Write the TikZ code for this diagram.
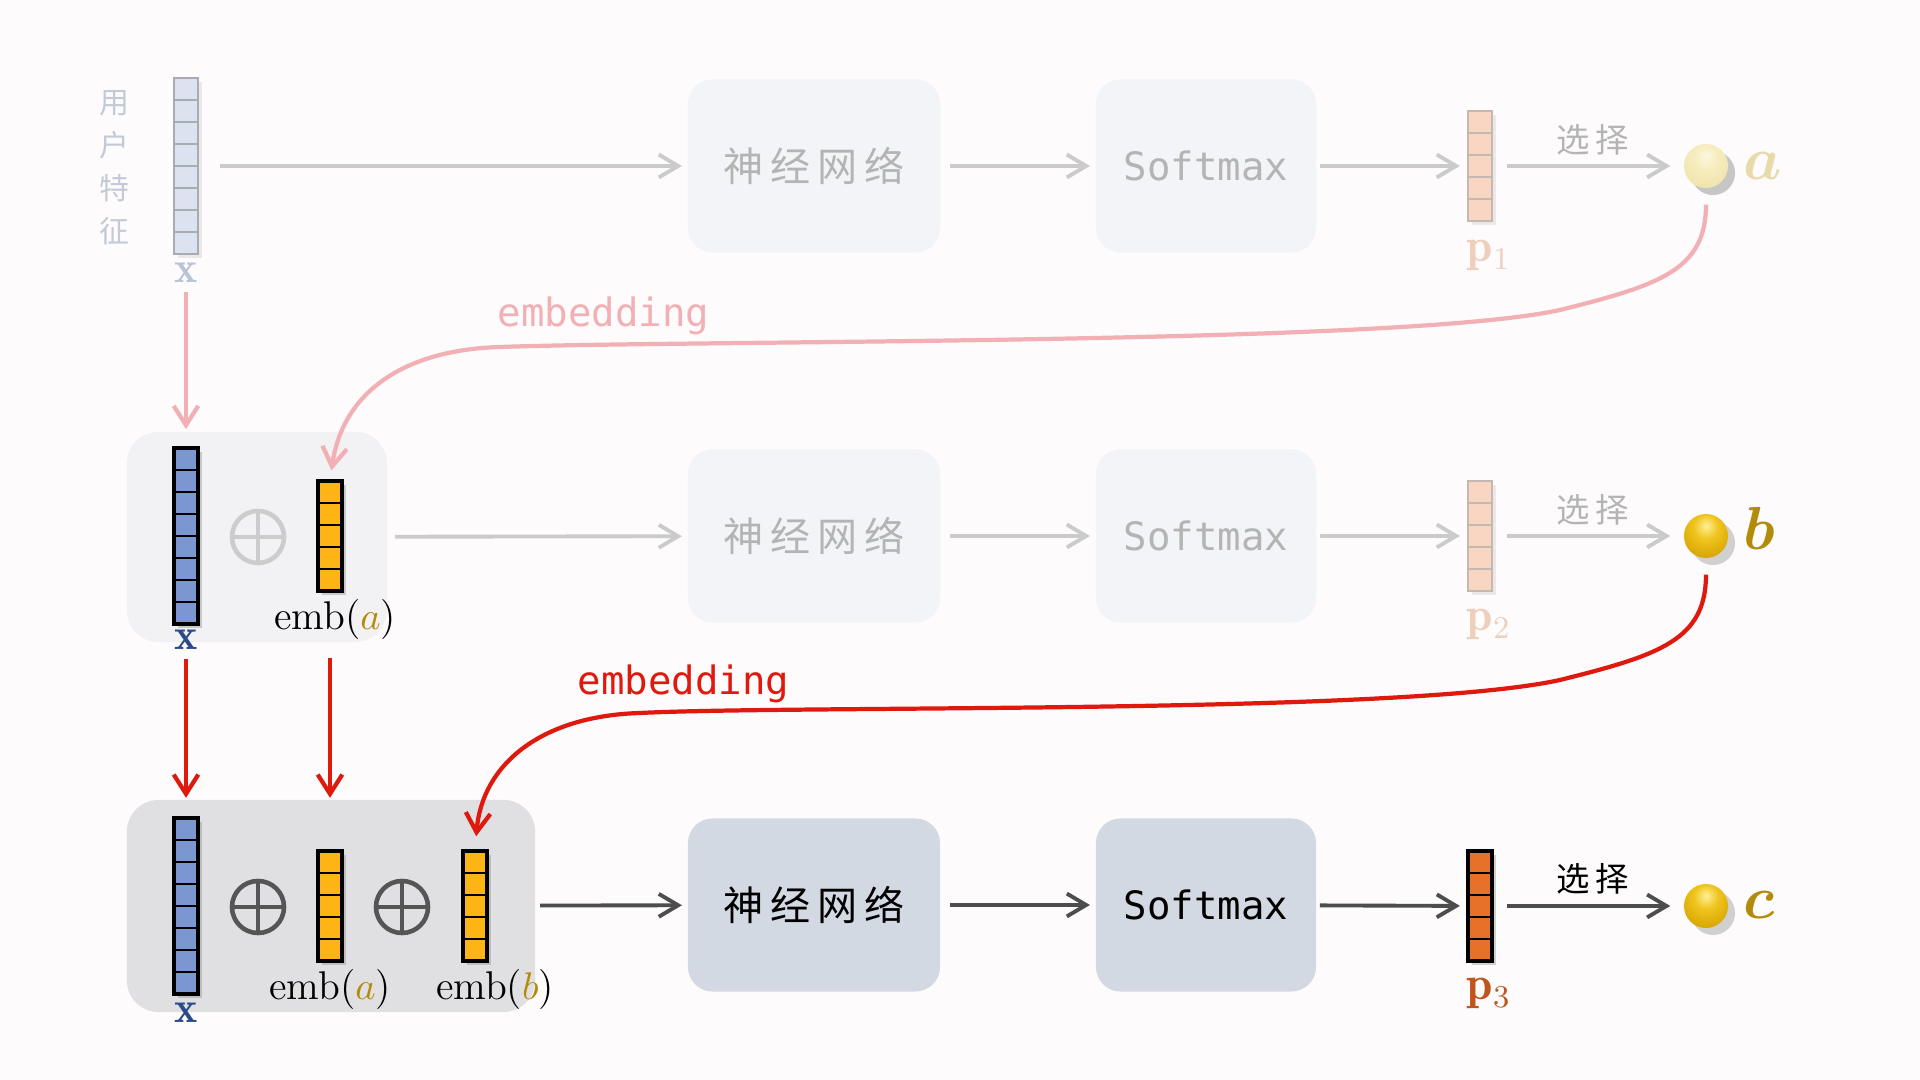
\documentclass[tikz,border=0pt]{standalone}
\usepackage{fontspec}
\usepackage{bm}
\newfontfamily\cjk{Noto Sans CJK SC}
\newfontfamily\monof{DejaVu Sans Mono}
\usetikzlibrary{arrows.meta,shadows}
\definecolor{bgc}{HTML}{FDFBFC}
\definecolor{fadebox}{HTML}{F3F4F8}
\definecolor{actbox}{HTML}{D3D9E2}
\definecolor{fadetxt}{HTML}{B4B4B4}
\definecolor{fadearr}{HTML}{CBCBCB}
\definecolor{actarr}{HTML}{4D4D4D}
\definecolor{pinkc}{HTML}{F2B0B5}
\definecolor{redc}{HTML}{E0190F}
\definecolor{xfade}{HTML}{DCE3F0}
\definecolor{xfadeborder}{HTML}{A9ABB0}
\definecolor{xact}{HTML}{7B96D0}
\definecolor{yel}{HTML}{FDB515}
\definecolor{pfade}{HTML}{F9D6C2}
\definecolor{pfadeborder}{HTML}{C4B8B0}
\definecolor{pact}{HTML}{E8712A}
\definecolor{plabfade}{HTML}{EDCFBB}
\definecolor{plab}{HTML}{C0561C}
\definecolor{xlabfade}{HTML}{B9C3D6}
\definecolor{xlabc}{HTML}{2B4A8C}
\definecolor{goldlab}{HTML}{B38B0A}
\definecolor{goldlabfade}{HTML}{E9DAAA}
\definecolor{bgmid}{HTML}{F2F1F3}
\definecolor{bgbot}{HTML}{E0DFE2}
\definecolor{opfade}{HTML}{CCCCCC}
\definecolor{opact}{HTML}{555555}
\definecolor{userc}{HTML}{C3CAD6}
\pgfdeclareradialshading{goldball}{\pgfpoint{0bp}{12bp}}{%
  color(0bp)=(rgb,255:red,255;green,240;blue,150);
  color(14bp)=(rgb,255:red,240;green,196;blue,30);
  color(34bp)=(rgb,255:red,214;green,164;blue,0);
  color(52bp)=(rgb,255:red,168;green,126;blue,0);
  color(64bp)=(rgb,255:red,150;green,112;blue,0);
  color(100bp)=(rgb,255:red,150;green,112;blue,0)}
\pgfdeclareradialshading{goldballfade}{\pgfpoint{0bp}{12bp}}{%
  color(0bp)=(rgb,255:red,252;green,248;blue,225);
  color(14bp)=(rgb,255:red,246;green,236;blue,190);
  color(34bp)=(rgb,255:red,240;green,228;blue,172);
  color(52bp)=(rgb,255:red,228;green,214;blue,150);
  color(64bp)=(rgb,255:red,222;green,208;blue,140);
  color(100bp)=(rgb,255:red,222;green,208;blue,140)}
\newcommand\cellrows[3]{\foreach \i in {1,...,#2}{\draw[#3] (#1.north west) ++(0,\i*22) -- ++(24,0);}}
\begin{document}
\begin{tikzpicture}[x=0.01cm,y=-0.01cm,
  col/.style={rectangle, inner sep=0pt, outer sep=0pt, minimum width=0.24cm},
  colfadex/.style={col, draw=xfadeborder, fill=xfade, line width=0.8pt, minimum height=1.76cm, drop shadow={opacity=0.15, shadow xshift=1.2pt, shadow yshift=-1.2pt}},
  colx/.style={col, draw=black, fill=xact, line width=0.9pt, minimum height=1.76cm, drop shadow={opacity=0.35, shadow xshift=1.2pt, shadow yshift=-1.2pt}},
  colemb/.style={col, draw=black, fill=yel, line width=0.9pt, minimum height=1.1cm, drop shadow={opacity=0.35, shadow xshift=1.2pt, shadow yshift=-1.2pt}},
  colpfade/.style={col, draw=pfadeborder, fill=pfade, line width=0.8pt, minimum height=1.1cm, drop shadow={opacity=0.15, shadow xshift=1.2pt, shadow yshift=-1.2pt}},
  colp/.style={col, draw=black, fill=pact, line width=0.9pt, minimum height=1.1cm, drop shadow={opacity=0.35, shadow xshift=1.2pt, shadow yshift=-1.2pt}},
  nnbox/.style={rectangle, rounded corners=7pt, minimum width=2.52cm, minimum height=1.73cm, inner sep=0pt, outer sep=0pt, font=\cjk\fontsize{11.4}{13}\selectfont},
  smbox/.style={rectangle, rounded corners=7pt, minimum width=2.2cm, minimum height=1.73cm, inner sep=0pt, outer sep=0pt, font=\monof\fontsize{11.1}{13}\selectfont},
  fadedbox/.style={fill=fadebox, text=fadetxt},
  activebox/.style={fill=actbox, text=black},
  fadearrow/.style={draw=fadearr, line width=1.1pt, -{Straight Barb[length=5.5pt,width=6.5pt]}},
  actarrow/.style={draw=actarr, line width=1.1pt, -{Straight Barb[length=5.5pt,width=6.5pt]}},
  pinkarrow/.style={draw=pinkc, line width=1.2pt, -{Straight Barb[length=5.5pt,width=7pt]}},
  redarrow/.style={draw=redc, line width=1.2pt, -{Straight Barb[length=5.5pt,width=7pt]}},
  oplusnode/.style={circle, draw, line width=1.3pt, minimum size=0.52cm, inner sep=0pt, outer sep=0pt},
  ballnode/.style={circle, minimum size=0.44cm, inner sep=0pt, shading=goldball, drop shadow={opacity=0.35, shadow xshift=2pt, shadow yshift=-2pt}},
  ballab/.style={anchor=base west, inner sep=0pt, font=\fontsize{18}{20}\selectfont},
  sel/.style={font=\cjk\fontsize{9.5}{11}\selectfont, inner sep=0pt},
  plabel/.style={anchor=base, inner sep=0pt, font=\fontsize{13.5}{15}\selectfont},
  xlabel/.style={inner sep=0pt, font=\fontsize{12.5}{14}\selectfont},
  emblabel/.style={anchor=base, inner sep=0pt, font=\fontsize{11.4}{13}\selectfont},
  embtxt/.style={anchor=base west, inner sep=0pt, font=\monof\fontsize{11.1}{13}\selectfont},
  bgpanel/.style={rectangle, rounded corners=9pt, inner sep=0pt, outer sep=0pt}
]
\useasboundingbox (0,0) rectangle (1920,1080);
\fill[bgc] (0,0) rectangle (1920,1080);

% ---------------- Row 1 ----------------
\node[text=userc, align=center, inner sep=0pt, font=\cjk\fontsize{8.5}{12.2}\selectfont] (user) at (114,168) {用\\户\\特\\征};
\node[colfadex] (x1) at (186,166) {};
\cellrows{x1}{7}{xfadeborder, line width=0.6pt}
\node[xlabel, text=xlabfade] (x1lab) at (186,273) {$\mathbf{x}$};
\node[nnbox, fadedbox] (nn1) at (814,166) {神\hspace{2pt}经\hspace{2pt}网\hspace{2pt}络};
\node[smbox, fadedbox] (sm1) at (1206,166) {Softmax};
\node[colpfade] (p1) at (1480,166) {};
\cellrows{p1}{4}{pfadeborder, line width=0.6pt}
\node[plabel, text=plabfade] (p1lab) at (1489,262) {$\mathbf{p}_1$};
\node[ballnode, shading=goldballfade, drop shadow={opacity=0.12, shadow xshift=2pt, shadow yshift=-2pt}] (balla) at (1706,166) {};
\node[ballab, text=goldlabfade] (alab) at (1743,180) {$\bm{a}$};
\node[sel, text=fadetxt] (sel1) at (1593,140) {选\hspace{1.5pt}择};

\draw[fadearrow, shorten <=6.3pt, shorten >=1.7pt] (x1) -- (nn1);
\draw[fadearrow, shorten <=2.8pt, shorten >=1.7pt] (nn1) -- (sm1);
\draw[fadearrow, shorten <=1.1pt, shorten >=2.3pt] (sm1) -- (p1);
\draw[fadearrow, shorten <=4.3pt, shorten >=3.7pt] (p1) -- (balla);

% ---------------- Row 2 ----------------
\node[bgpanel, fill=bgmid, minimum width=2.6cm, minimum height=2.1cm] (bg2) at (257,537) {};
\node[colx] (x2) at (186,536) {};
\cellrows{x2}{7}{black, line width=0.7pt}
\node[xlabel, text=xlabc] (x2lab) at (186,640) {$\mathbf{x}$};
\node[oplusnode, draw=opfade] (op2) at (258,537) {};
\draw[opfade, line width=1.3pt] (op2.north) -- (op2.south) (op2.west) -- (op2.east);
\node[colemb] (ea2) at (330,536) {};
\cellrows{ea2}{4}{black, line width=0.7pt}
\node[emblabel] (ea2lab) at (335,630) {emb($\textcolor{goldlab}{a}$)};
\node[nnbox, fadedbox] (nn2) at (814,536) {神\hspace{2pt}经\hspace{2pt}网\hspace{2pt}络};
\node[smbox, fadedbox] (sm2) at (1206,536) {Softmax};
\node[colpfade] (p2) at (1480,536) {};
\cellrows{p2}{4}{pfadeborder, line width=0.6pt}
\node[plabel, text=plabfade] (p2lab) at (1489,631) {$\mathbf{p}_2$};
\node[ballnode] (ballb) at (1706,536) {};
\node[ballab, text=goldlab] (blab) at (1743,550) {$\bm{b}$};
\node[sel, text=fadetxt] (sel2) at (1593,510) {选\hspace{1.5pt}择};

\draw[fadearrow, shorten <=2.3pt, shorten >=1.7pt] (bg2) -- (nn2);
\draw[fadearrow, shorten <=2.8pt, shorten >=1.7pt] (nn2) -- (sm2);
\draw[fadearrow, shorten <=1.1pt, shorten >=2.3pt] (sm2) -- (p2);
\draw[fadearrow, shorten <=4.3pt, shorten >=3.7pt] (p2) -- (ballb);

% ---------------- Row 3 ----------------
\node[bgpanel, fill=bgbot, minimum width=4.08cm, minimum height=2.12cm] (bg3) at (331,906) {};
\node[colx] (x3) at (186,906) {};
\cellrows{x3}{7}{black, line width=0.7pt}
\node[xlabel, text=xlabc] (x3lab) at (186,1013) {$\mathbf{x}$};
\node[oplusnode, draw=opact] (op3a) at (258,907) {};
\draw[opact, line width=1.3pt] (op3a.north) -- (op3a.south) (op3a.west) -- (op3a.east);
\node[colemb] (ea3) at (330,906) {};
\cellrows{ea3}{4}{black, line width=0.7pt}
\node[oplusnode, draw=opact] (op3b) at (402,907) {};
\draw[opact, line width=1.3pt] (op3b.north) -- (op3b.south) (op3b.west) -- (op3b.east);
\node[colemb] (eb3) at (475,906) {};
\cellrows{eb3}{4}{black, line width=0.7pt}
\node[emblabel] (ea3lab) at (330,1000) {emb($\textcolor{goldlab}{a}$)};
\node[emblabel] (eb3lab) at (495,1000) {emb($\textcolor{goldlab}{b}$)};
\node[nnbox, activebox] (nn3) at (814,905) {神\hspace{2pt}经\hspace{2pt}网\hspace{2pt}络};
\node[smbox, activebox] (sm3) at (1206,905) {Softmax};
\node[colp] (p3) at (1480,906) {};
\cellrows{p3}{4}{black, line width=0.7pt}
\node[plabel, text=plab] (p3lab) at (1489,1000) {$\mathbf{p}_3$};
\node[ballnode] (ballc) at (1706,906) {};
\node[ballab, text=goldlab] (clab) at (1743,919) {$\bm{c}$};
\node[sel, text=black] (sel3) at (1593,879) {选\hspace{1.5pt}择};

\draw[actarrow, shorten <=1.4pt, shorten >=1.7pt] (bg3) -- (nn3);
\draw[actarrow, shorten <=2.8pt, shorten >=1.7pt] (nn3) -- (sm3);
\draw[actarrow, shorten <=1.1pt, shorten >=2.3pt] (sm3) -- (p3);
\draw[actarrow, shorten <=4.3pt, shorten >=3.7pt] (p3) -- (ballc);

% ---------------- vertical arrows ----------------
\draw[pinkarrow, shorten <=2.5pt, shorten >=0.8pt] (x1lab.south) -- (x1lab.south |- bg2.north);
\draw[redarrow, shorten <=2.5pt, shorten >=0.6pt] (x2lab.south) -- (x2lab.south |- bg3.north);
\draw[redarrow, shorten <=5pt, shorten >=0.6pt] (ea2 |- ea2lab.south) -- (ea2 |- bg3.north);

% ---------------- embedding curves ----------------
\node[embtxt, text=pinkc] (emb1) at (497,327) {embedding};
\draw[pinkarrow, shorten <=4.5pt, shorten >=3pt] (balla.south) .. controls (1706,270) and (1660,285) .. (1560,310)
   .. controls (1400,345) and (700,340) .. (500,347)
   .. controls (400,350) and (342,395) .. (ea2.north);
\node[embtxt, text=redc] (emb2) at (577,695) {embedding};
\draw[redarrow, shorten <=4.5pt, shorten >=4.2pt] (ballb.south) .. controls (1706,640) and (1660,655) .. (1560,680)
   .. controls (1400,715) and (800,705) .. (640,713)
   .. controls (540,716) and (482,765) .. (eb3.north);
\end{tikzpicture}
\end{document}
